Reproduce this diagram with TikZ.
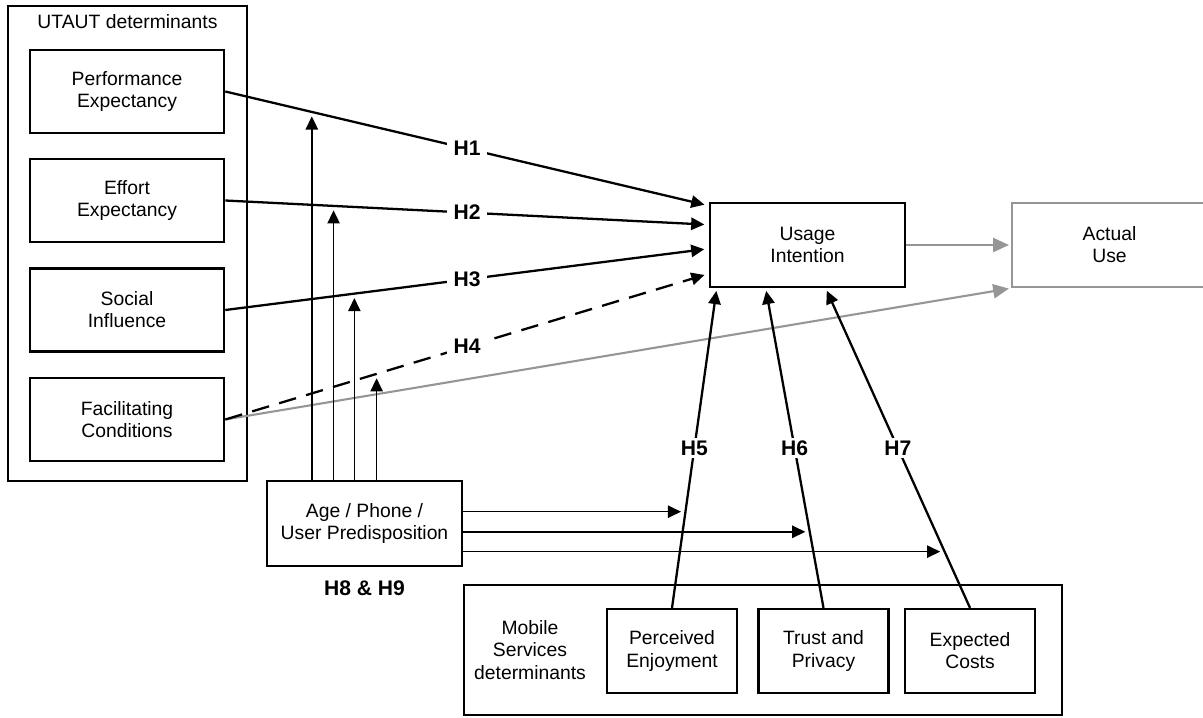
\documentclass[tikz,border=0pt]{standalone}
\usepackage{fontspec}
\setmainfont{Liberation Sans}
\usetikzlibrary{arrows.meta,calc}
\definecolor{use_gray}{RGB}{150,150,150}

\begin{document}
\begin{tikzpicture}[x=0.02cm,y=-0.02cm,>={Triangle[length=7.5pt,width=7pt]},font=\fontsize{11}{12.6}\selectfont]
    \tikzstyle{box}=[draw=black, line width=1.5pt, align=center, inner sep=0pt]
    \tikzstyle{utaut}=[box, minimum width=3.88cm, minimum height=1.66cm]
    \tikzstyle{mobile}=[box, line width=1.3pt, minimum width=2.6cm, minimum height=1.68cm]
    \tikzstyle{hyp}=[fill=white, inner xsep=3.5pt, inner ysep=1.5pt, font=\fontsize{12}{14}\selectfont\bfseries]
    \tikzstyle{link}=[->, line width=1.3pt, shorten >=2.5pt]
    \tikzstyle{mod}=[->, line width=0.9pt, shorten >=2.5pt]
    \tikzstyle{grey}=[-{Triangle[length=9pt,width=8pt]}, draw=use_gray, line width=1.2pt, shorten >=1pt]

    \useasboundingbox (0,0) rectangle (1203,717);

    % UTAUT determinants
    \node[box, minimum width=4.78cm, minimum height=9.5cm] (utautbox) at (127.5,243.5) {};
    \node (utauttitle) at (127.5,22) {UTAUT determinants};
    \node[utaut] (pe) at (127,91.5)  {Performance\\Expectancy};
    \node[utaut] (ee) at (127,200.5) {Effort\\Expectancy};
    \node[utaut] (si) at (127,310)   {Social\\Influence};
    \node[utaut] (fc) at (127,419.5) {Facilitating\\Conditions};

    % outcomes
    \node[box, minimum width=3.9cm, minimum height=1.68cm] (ui) at (807.5,245) {Usage\\Intention};
    \node[box, draw=use_gray, minimum width=3.9cm, minimum height=1.68cm] (au) at (1109.5,245) {Actual\\Use};

    % moderators
    \node[box, minimum width=3.9cm, minimum height=1.7cm] (age) at (364.5,523.5) {Age / Phone /\\User Predisposition};
    \node[hyp, fill=none] (h89) at (364.5,588) {H8 \& H9};

    % mobile services determinants
    \node[box, minimum width=11.96cm, minimum height=2.6cm] (msbox) at (763,650) {};
    \node[align=center] (mstitle) at (530,650) {Mobile\\Services\\determinants};
    \node[mobile] (enj)   at (672,651)   {Perceived\\Enjoyment};
    \node[mobile] (trust) at (823.5,651) {Trust and\\Privacy};
    \node[mobile] (cost)  at (970,651)   {Expected\\Costs};

    % grey paths to actual use
    \draw[grey] (fc.east) -- (au.south west);
    \draw[grey] (ui.east) -- (au.west);

    % H1 - H4
    \draw[link] (pe.east) -- node[hyp] {H1} coordinate[pos=0.179] (m1) ($(ui.north west)+(0,4)$);
    \draw[link] (ee.east) -- node[hyp] {H2} coordinate[pos=0.224] (m2) ($(ui.north west)+(0,23)$);
    \draw[link] (si.east) -- node[hyp] {H3} coordinate[pos=0.267] (m3) ($(ui.north west)+(0,47)$);
    \draw[link, dash pattern=on 10pt off 6pt] (fc.east) -- node[hyp] {H4} coordinate[pos=0.313] (m4) ($(ui.north west)+(0,72)$);

    % H5 - H7
    \draw[link, shorten >=1.5pt] (enj.north)   -- node[hyp] {H5} coordinate[pos=0.301] (m5) ($(ui.south west)+(8,0)$);
    \draw[link, shorten >=1.5pt] (trust.north) -- node[hyp] {H6} coordinate[pos=0.238] (m6) ($(ui.south west)+(57,0)$);
    \draw[link, shorten >=1.5pt] (cost.north)  -- node[hyp] {H7} coordinate[pos=0.176] (m7) ($(ui.south west)+(117,0)$);

    % H8 & H9 moderating arrows
    \draw[mod] (m1 |- age.north) -- (m1);
    \draw[mod] (m2 |- age.north) -- (m2);
    \draw[mod] (m3 |- age.north) -- (m3);
    \draw[mod] (m4 |- age.north) -- (m4);
    \draw[mod] (age.east |- m5) -- (m5);
    \draw[mod] (age.east |- m6) -- (m6);
    \draw[mod] (age.east |- m7) -- (m7);
\end{tikzpicture}
\end{document}
